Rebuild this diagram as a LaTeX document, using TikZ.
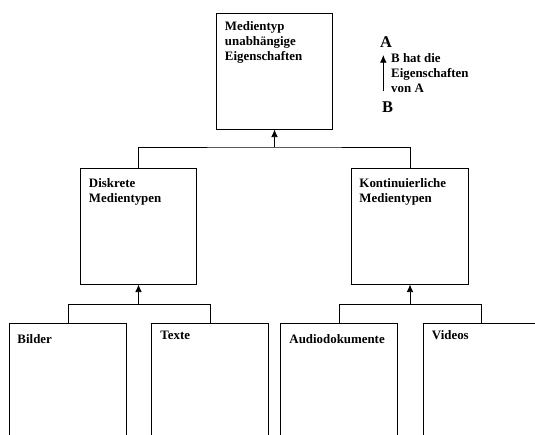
\documentclass[tikz,border=0pt]{standalone}
\usepackage{fontspec}
\setmainfont{Liberation Serif}
\usetikzlibrary{arrows.meta}
\begin{document}
\begin{tikzpicture}[x=0.03cm,y=-0.03cm,
box/.style={draw,line width=0.7pt,minimum width=3.5cm,minimum height=3.48cm,inner sep=0pt},
txt/.style={anchor=north west,align=left,inner sep=0pt,font=\bfseries\fontsize{11}{12.8}\selectfont},
arr/.style={line width=0.7pt,-{Latex[length=2.3mm,width=2mm]}}]
\useasboundingbox (0,0) rectangle (535,434);
\clip (0,0) rectangle (535,434);
% boxes
\node[box] (top) at (274.5,71) {};
\node[box] (disk) at (138.5,226) {};
\node[box] (kont) at (410,226) {};
\node[box] (bild) at (68,381) {};
\node[box] (text) at (210,381) {};
\node[box] (audio) at (339,381) {};
\node[box] (video) at (481.5,381) {};
% texts
\node[txt] (ttop) at ([shift={(9,9)}]top.north west) {Medientyp\\unabh\"angige\\Eigenschaften};
\node[txt] (tdisk) at ([shift={(9,11)}]disk.north west) {Diskrete\\Medientypen};
\node[txt] (tkont) at ([shift={(8,11)}]kont.north west) {Kontinuierliche\\Medientypen};
\node[txt] (tbild) at ([shift={(8,12)}]bild.north west) {Bilder};
\node[txt] (ttext) at ([shift={(9,8)}]text.north west) {Texte};
\node[txt] (taudio) at ([shift={(9,12)}]audio.north west) {Audiodokumente};
\node[txt] (tvideo) at ([shift={(9,8)}]video.north west) {Videos};
% connectors
\coordinate (jtop) at (274.5,147);
\coordinate (jdisk) at (138.5,304);
\coordinate (jkont) at (410,304);
\draw[line width=0.7pt] (disk.north) |- (jtop) -| (kont.north);
\draw[arr] (jtop) -- (top.south);
\draw[line width=0.7pt] (bild.north) |- (jdisk) -| (text.north);
\draw[arr] (jdisk) -- (disk.south);
\draw[line width=0.7pt] (audio.north) |- (jkont) -| (video.north);
\draw[arr] (jkont) -- (kont.south);
% legend
\node[inner sep=0pt,font=\bfseries\fontsize{14}{16}\selectfont] (la) at (386,42) {A};
\node[inner sep=0pt,font=\bfseries\fontsize{14}{16}\selectfont] (lb) at (387.5,107) {B};
\coordinate (lfrom) at (383.3,91);
\coordinate (lto) at (383.3,55);
\draw[arr] (lfrom) -- (lto);
\node[txt,anchor=west] (ltxt) at (391,73) {B hat die\\Eigenschaften\\von A};
\end{tikzpicture}
\end{document}
